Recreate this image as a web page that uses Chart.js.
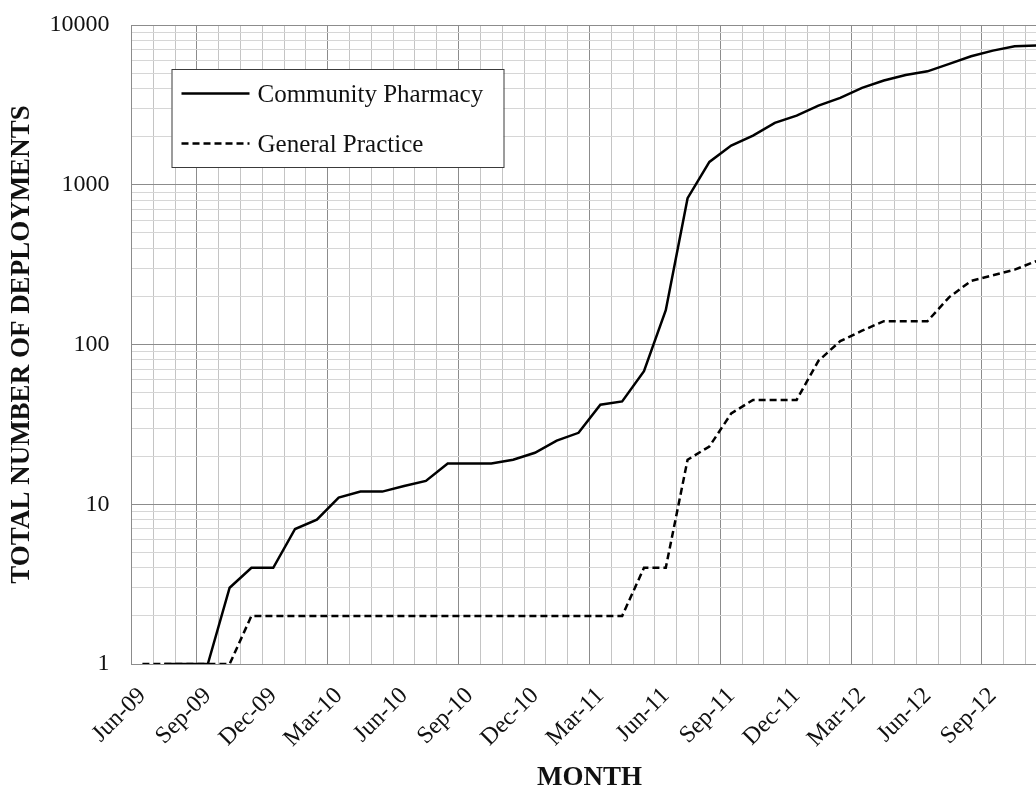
<!DOCTYPE html>
<html>
<head>
<meta charset="utf-8">
<script src="https://cdn.jsdelivr.net/npm/chart.js@4.4.0/dist/chart.umd.min.js"></script>
<style>
  html, body { margin: 0; padding: 0; background: #fff; overflow: hidden; }
  canvas { display: block; }
</style>
</head>
<body>
<canvas id="deployChart" width="1075" height="787"></canvas>
<script>
const months = [
  'Jun-09', 'Jul-09', 'Aug-09', 'Sep-09', 'Oct-09', 'Nov-09', 'Dec-09',
  'Jan-10', 'Feb-10', 'Mar-10', 'Apr-10', 'May-10', 'Jun-10', 'Jul-10', 'Aug-10', 'Sep-10', 'Oct-10', 'Nov-10', 'Dec-10',
  'Jan-11', 'Feb-11', 'Mar-11', 'Apr-11', 'May-11', 'Jun-11', 'Jul-11', 'Aug-11', 'Sep-11', 'Oct-11', 'Nov-11', 'Dec-11',
  'Jan-12', 'Feb-12', 'Mar-12', 'Apr-12', 'May-12', 'Jun-12', 'Jul-12', 'Aug-12', 'Sep-12', 'Oct-12', 'Nov-12'
]

// Community Pharmacy
const pharmacy = [
  null, 1, 1, 1, 3, 4, 4,
  7, 8, 11, 12, 12, 13, 14, 18, 18, 18, 19, 21,
  25, 28, 42, 44, 68, 164, 824, 1390, 1760, 2030, 2440, 2710,
  3130, 3500, 4040, 4490, 4870, 5130, 5710, 6370, 6910, 7350, 7450
]

// General Practice
const practice = [
  1, 1, 1, 1, 1, 2, 2,
  2, 2, 2, 2, 2, 2, 2, 2, 2, 2, 2, 2,
  2, 2, 2, 2, 4, 4, 19, 23, 37, 45, 45, 45,
  79, 105, 122, 140, 140, 140, 198, 250, 271, 294, 333
]

const yLabels = [1, 10, 100, 1000, 10000]

// gridlines at 1..9 of every decade
const yTicks = []
yLabels.forEach(d => {
  for (let m = 1; m < 10; m++) {
    if (d * m <= 10000) yTicks.push(d * m)
  }
})

const FONT = "'Liberation Serif', 'DejaVu Serif', serif"
const majorGrid = '#8c8c8c'

Chart.defaults.font.family = FONT
Chart.defaults.color = '#111'

// legend drawn as a framed box inside the plot
const boxLegend = {
  id: 'boxLegend',
  afterDatasetsDraw(chart) {
    const {ctx, chartArea} = chart
    const x = chartArea.left + 40
    const y = chartArea.top + 44
    const w = 332
    const h = 98
    ctx.save()
    ctx.fillStyle = '#fff'
    ctx.fillRect(x, y, w, h)
    ctx.strokeStyle = '#3a3a3a'
    ctx.lineWidth = 1
    ctx.strokeRect(x + 0.5, y + 0.5, w, h)
    chart.data.datasets.forEach((ds, i) => {
      const ly = y + 24.5 + i * 50
      ctx.beginPath()
      ctx.setLineDash(ds.borderDash || [])
      ctx.lineWidth = ds.borderWidth
      ctx.strokeStyle = ds.borderColor
      ctx.moveTo(x + 10, ly)
      ctx.lineTo(x + 78, ly)
      ctx.stroke()
      ctx.setLineDash([])
      ctx.fillStyle = '#111'
      ctx.font = '25px ' + FONT
      ctx.textBaseline = 'alphabetic'
      ctx.fillText(ds.label, x + 86, ly + 8.5)
    })
    ctx.restore()
  }
}

new Chart(document.getElementById('deployChart'), {
  type: 'line',
  data: {
    labels: months,
    datasets: [
      {
        label: 'Community Pharmacy',
        data: pharmacy,
        borderColor: '#000',
        borderWidth: 2.5,
        pointRadius: 0,
        tension: 0
      },
      {
        label: 'General Practice',
        data: practice,
        borderColor: '#000',
        borderWidth: 2.5,
        borderDash: [7, 4],
        pointRadius: 0,
        tension: 0
      }
    ]
  },
  options: {
    responsive: false,
    animation: false,
    layout: {
      padding: {left: 0, top: 25, right: 11.4, bottom: 0}
    },
    plugins: {
      legend: {display: false},
      tooltip: {enabled: false}
    },
    scales: {
      x: {
        type: 'category',
        offset: true,
        afterFit: s => { s.height = 123 },
        grid: {
          offset: true,
          drawTicks: false,
          color: c => (c.index % 6 === 3 ? majorGrid : '#c4c4c4'),
          lineWidth: 1
        },
        border: {color: majorGrid},
        ticks: {
          autoSkip: false,
          minRotation: 45,
          maxRotation: 45,
          padding: 18,
          font: {size: 24},
          callback: (v, i) => (i % 3 === 0 ? months[i] : '')
        },
        title: {
          display: true,
          text: 'MONTH',
          font: {size: 27, weight: 'bold', lineHeight: 1},
          padding: {top: 0, bottom: -5}
        }
      },
      y: {
        type: 'logarithmic',
        min: 1,
        max: 10000,
        afterFit: s => {
          s.width = 131.5
          s.paddingTop = 0
        },
        afterBuildTicks: s => { s.ticks = yTicks.map(value => ({value})) },
        grid: {
          drawTicks: false,
          color: c => (yLabels.includes(c.tick && c.tick.value) ? majorGrid : '#d6d6d6'),
          lineWidth: 1
        },
        border: {color: majorGrid},
        ticks: {
          autoSkip: false,
          padding: 22,
          font: {size: 24},
          callback: v => (yLabels.includes(v) ? String(v) : '')
        },
        title: {
          display: true,
          text: 'TOTAL NUMBER OF DEPLOYMENTS',
          font: {size: 27, weight: 'bold', lineHeight: 1},
          padding: {top: 9, bottom: 0}
        }
      }
    }
  },
  plugins: [boxLegend]
})
</script>
</body>
</html>
